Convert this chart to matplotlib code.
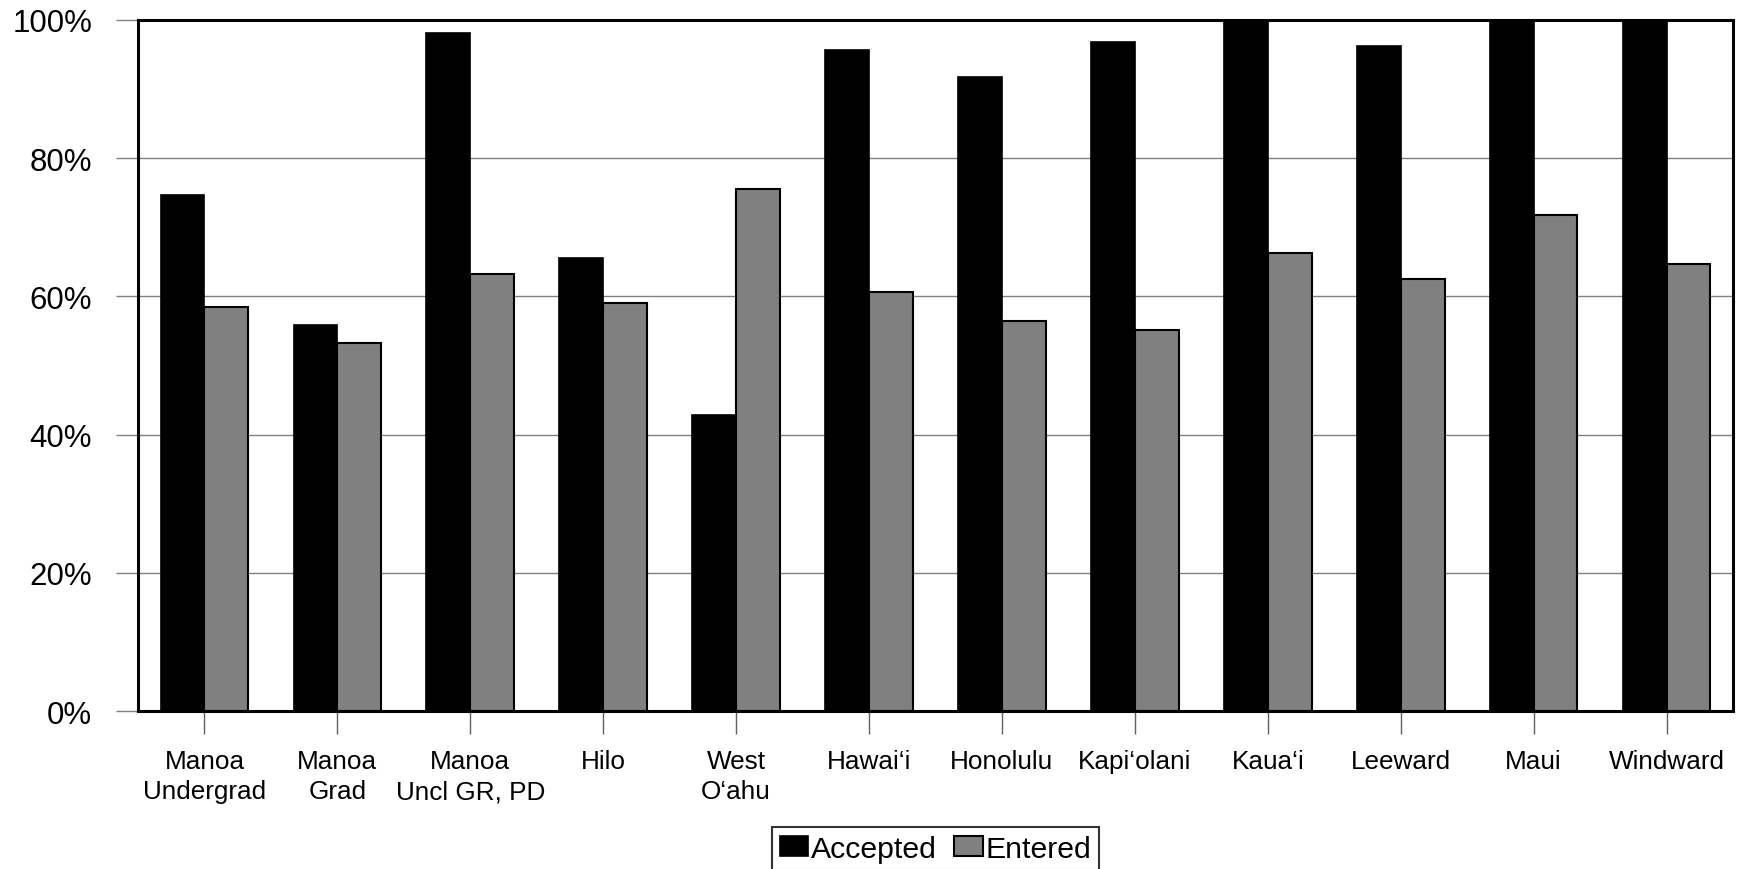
import matplotlib
matplotlib.use("Agg")
import matplotlib.pyplot as plt
import numpy as np

categories = ["Manoa\nUndergrad", "Manoa\nGrad", "Manoa\nUncl GR, PD", "Hilo", "West\nO\u2018ahu",
              "Hawai\u2018i", "Honolulu", "Kapi\u2018olani", "Kaua\u2018i", "Leeward", "Maui", "Windward"]
accepted = [74.7, 55.8, 98.1, 65.5, 42.8, 95.7, 91.7, 96.8, 100, 96.2, 100, 100]
entered = [58.5, 53.2, 63.3, 59.1, 75.6, 60.6, 56.4, 55.1, 66.3, 62.5, 71.8, 64.7]
yticks = [0, 20, 40, 60, 80, 100]
ytick_labels = ["0%", "20%", "40%", "60%", "80%", "100%"]

plt.rcParams['font.family'] = ['Liberation Sans', 'DejaVu Sans']

fig = plt.figure(figsize=(17.38, 8.70), dpi=100)
ax = fig.add_axes([0.0794, 0.1816, 0.9971 - 0.0794, 0.9759 - 0.1816])

x = np.arange(len(categories))
w = 0.33
ax.bar(x - w / 2, accepted, width=w, color="black", edgecolor="black", linewidth=1.2,
       label="Accepted", zorder=3)
ax.bar(x + w / 2, entered, width=w, color="#808080", edgecolor="black", linewidth=1.5,
       label="Entered", zorder=3)

ax.set_xlim(-0.5, len(categories) - 0.5)
ax.set_ylim(0, 100)
ax.set_yticks(yticks)
ax.set_yticklabels(ytick_labels, fontsize=22.5)
ax.set_xticks(x)
ax.set_xticklabels(categories, fontsize=18.8, linespacing=1.33)
ax.yaxis.grid(True, color="#808080", linewidth=1.0, zorder=0)
ax.set_axisbelow(True)
ax.tick_params(axis="y", direction="out", length=16, width=1.0, color="#808080", pad=17)
ax.tick_params(axis="x", direction="out", length=16.5, width=1.0, color="#606060", pad=11)
for s in ax.spines.values():
    s.set_linewidth(2.2)
    s.set_color("black")
    s.set_zorder(4)

leg = fig.legend(loc="upper center", bbox_to_anchor=(0.5383, 0.048), ncol=2, fontsize=21.8,
                 frameon=True, fancybox=False, borderpad=0.25, handlelength=0.95,
                 handleheight=0.65, handletextpad=0.1, columnspacing=0.55, borderaxespad=0)
leg.get_frame().set_edgecolor("black")
leg.get_frame().set_linewidth(1.5)

fig.savefig("out.png", dpi=100, facecolor="white")
